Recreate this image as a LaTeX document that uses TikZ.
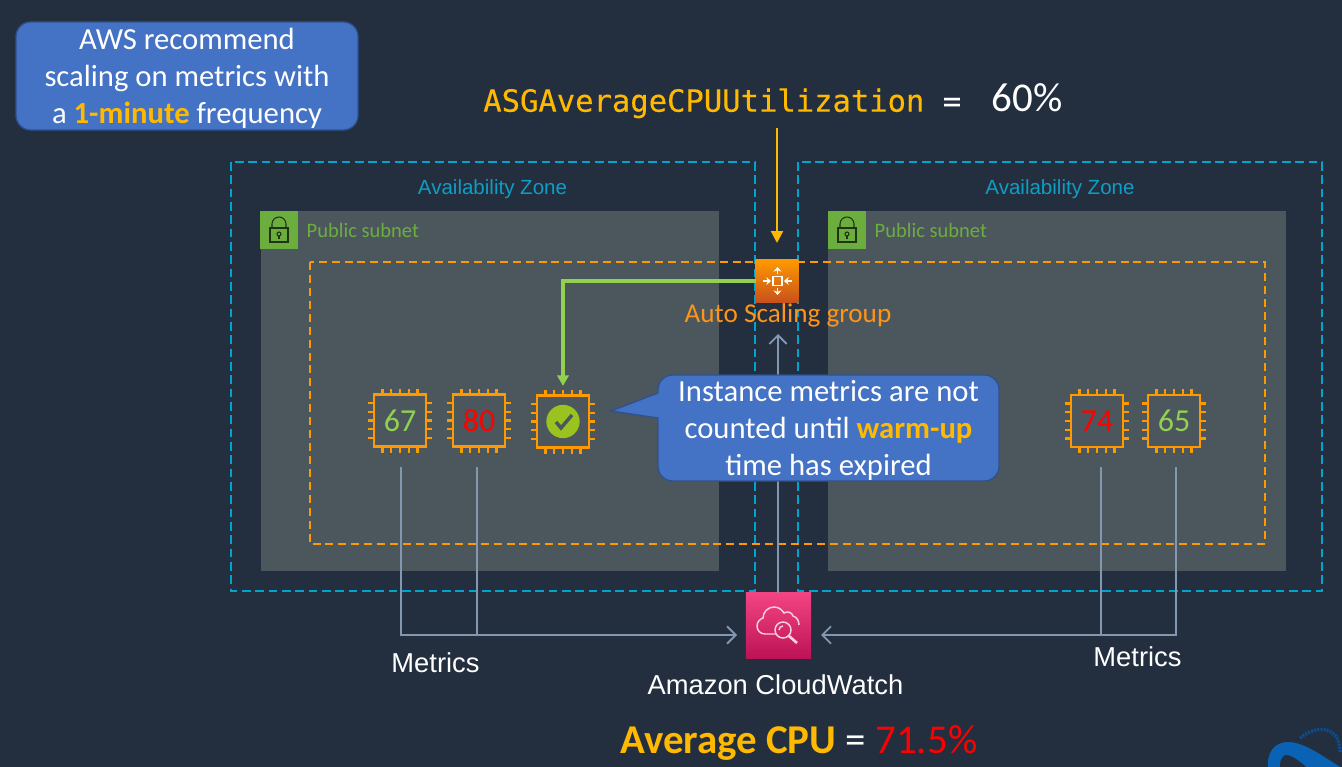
\documentclass[tikz,border=0pt]{standalone}
\usepackage{fontspec}
\usepackage{tikz}
\usetikzlibrary{arrows.meta}
\setmainfont{Carlito}
\newfontfamily\arialf{Liberation Sans}
\newfontfamily\monof[FakeBold=0.3]{DejaVu Sans Mono}
\definecolor{bgdark}{HTML}{232E3E}
\definecolor{subnetgrey}{HTML}{4C565D}
\definecolor{zoneblue}{HTML}{00A4CC}
\definecolor{zonetext}{HTML}{0F9DC6}
\definecolor{asgorange}{HTML}{FF9900}
\definecolor{asgtext}{HTML}{FF9416}
\definecolor{asgdark}{HTML}{C8511B}
\definecolor{cwlight}{HTML}{F34482}
\definecolor{cwdark}{HTML}{BC1356}
\definecolor{cwline}{HTML}{F7D0DF}
\definecolor{subnetgreen}{HTML}{6CAE3E}
\definecolor{okgreen}{HTML}{92D050}
\definecolor{badgegreen}{HTML}{9BC31F}
\definecolor{hotred}{HTML}{FF0000}
\definecolor{warmyellow}{HTML}{FFB900}
\definecolor{noteblue}{HTML}{4472C4}
\definecolor{noteedge}{HTML}{2F528F}
\definecolor{metricgrey}{HTML}{8497B0}
\definecolor{logoblue}{HTML}{0A62B4}
\tikzset{
    zonebox/.style={draw=zoneblue,line width=1.5pt,dash pattern=on 6.5pt off 3.5pt},
    subnetbox/.style={fill=subnetgrey},
    asgbox/.style={draw=asgorange,line width=1.4pt,dash pattern=on 6pt off 3.7pt},
    locktile/.style={fill=subnetgreen,minimum size=28.5pt,inner sep=0pt,outer sep=0pt},
    locklabel/.style={anchor=west,text=subnetgreen,font=\fontsize{15.4}{18}\selectfont},
    zonelabel/.style={text=zonetext,font=\arialf\fontsize{15.4}{18}\selectfont},
    chipbox/.style={draw=asgorange,line width=2pt,minimum size=39pt,inner sep=0pt,outer sep=0pt,font=\fontsize{24}{28}\selectfont},
    chippin/.style={draw=asgorange,line width=1.7pt},
    metric/.style={draw=metricgrey,line width=1.4pt},
    metricarrow/.style={metric,-{Straight Barb[length=6.5pt,width=13pt,line width=1.4pt]}},
    notebox/.style={fill=noteblue,draw=noteedge,line width=1pt},
    notetext/.style={align=center,text=white,font=\fontsize{23}{27.75}\selectfont},
    whitelabel/.style={text=white,font=\arialf\fontsize{20.5}{24}\selectfont},
    lockline/.style={draw=black!70!subnetgreen,line width=.8pt},
    iconline/.style={draw=white,line width=1pt},
    cwlinestyle/.style={draw=cwline,line width=1.1pt},
    asgarrow/.style={iconline,-{Stealth[length=3.5pt,width=6pt]}}
}
\newcommand{\chipicon}[4]{%
    \node[chipbox] (#1) at (#2,#3) {#4};
    \foreach \off in {-17.5,-8.75,0,8.75,17.5} {
        \draw[chippin] (#1.north) ++(\off,0) -- ++(0,-6);
        \draw[chippin] (#1.south) ++(\off,0) -- ++(0,6);
        \draw[chippin] (#1.west) ++(0,\off) -- ++(-6,0);
        \draw[chippin] (#1.east) ++(0,\off) -- ++(6,0);
    }
}
\newcommand{\lockicon}[3]{%
    \node[locktile] (#1) at (#2,#3) {};
    \draw[lockline] (#1.center) ++(-9,-2) rectangle ++(18,14);
    \draw[lockline] (#1.center) ++(-7,-2) -- ++(0,-4) arc (180:360:7) -- ++(0,4);
    \draw[lockline] (#1.center) ++(0,4) circle (2);
    \draw[lockline] (#1.center) ++(0,6) -- ++(0,3);
}
\begin{document}
\begin{tikzpicture}[x=.75pt,y=-.75pt]
    \useasboundingbox (0,0) rectangle (1342,767);
    \fill[bgdark] (0,0) rectangle (1342,767);

    % zones and subnets
    \draw[zonebox] (231,162) rectangle (755,591);
    \draw[zonebox] (798,162) rectangle (1322,591);
    \fill[subnetbox] (261,211) rectangle (719,571);
    \fill[subnetbox] (828,211) rectangle (1286,571);
    \node[zonelabel] (zoneleft) at (492.5,189) {Availability Zone};
    \node[zonelabel] (zoneright) at (1060,189) {Availability Zone};
    \lockicon{lockleft}{279}{230}
    \lockicon{lockright}{847}{230}
    \node[locklabel] (subnetleft) at (302,230) {Public subnet};
    \node[locklabel] (subnetright) at (870,230) {Public subnet};
    \draw[asgbox] (310,262) rectangle (1265,544);

    % instances
    \chipicon{chipa}{400}{420.5}{\textcolor{okgreen}{67}}
    \chipicon{chipb}{479}{420.5}{\textcolor{hotred}{80}}
    \chipicon{chipc}{563}{421.5}{}
    \chipicon{chipd}{1097}{421}{\textcolor{hotred}{74}}
    \chipicon{chipe}{1174}{421}{\textcolor{okgreen}{65}}
    \node[circle,fill=badgegreen,minimum size=25pt,inner sep=0pt] (okmark) at (chipc.center) {};
    \draw[subnetgrey,line width=2.6pt] (556,422) -- (561,428) -- (572,415);

    % cloudwatch and auto scaling icons
    \node[minimum size=49pt,inner sep=0pt,outer sep=0pt,shading angle=-45,bottom color=cwdark,top color=cwlight] (cloudwatch) at (778.5,625.5) {};
    \draw[cwlinestyle] (776,634) -- (765,634) .. controls (760,634) and (757,630) .. (757,626) .. controls (757,622) and (760,619) .. (763,618) .. controls (763,612) and (768,607) .. (774,607) .. controls (779,607) and (782,610) .. (784,613) .. controls (787,611) and (792,612) .. (793,616) .. controls (797,617) and (799,621) .. (799,625);
    \draw[cwlinestyle] (783,630) circle (8);
    \draw[cwlinestyle,line width=2pt] (789,636) -- (797,643);
    \draw[cwlinestyle] (779,630) arc (180:270:4);
    \node[minimum size=32pt,inner sep=0pt,outer sep=0pt,shading angle=-45,bottom color=asgdark,top color=asgorange] (asgicon) at (777,281) {};

    % connectors
    \coordinate (asgtop) at (777,128);
    \coordinate (asgend) at (777,243);
    \coordinate (asgin) at (778,334);
    \coordinate (okend) at (563,386);
    \coordinate (cwleft) at (737,635);
    \coordinate (cwright) at (821,635);
    \coordinate (metrica) at (401,467);
    \coordinate (metricb) at (477,467);
    \coordinate (metricc) at (1101,467);
    \coordinate (metricd) at (1176,467);
    \draw[draw=warmyellow,line width=1.6pt,-{Triangle[length=9pt,width=9pt]}] (asgtop) -- (asgend);
    \draw[draw=okgreen,line width=2.4pt,-{Triangle[length=8pt,width=8.5pt]}] (asgicon.west) -| (okend);
    \draw[metricarrow] (cloudwatch.north -| asgin) -- (asgin);
    \draw[metricarrow] (metrica) |- (cwleft);
    \draw[metric] (metricb) -- (metricb |- cwleft);
    \draw[metricarrow] (metricd) |- (cwright);
    \draw[metric] (metricc) -- (metricc |- cwright);

    % auto scaling glyph
    \draw[iconline,line width=1.2pt] (773,276.5) rectangle (782,285.5);
    \draw[asgarrow] (777.5,274) -- (777.5,267);
    \draw[asgarrow] (777.5,288) -- (777.5,295);
    \draw[asgarrow] (763,281) -- (771,281);
    \draw[asgarrow] (792,281) -- (784,281);

    \node[text=asgtext,font=\fontsize{20.4}{24}\selectfont] (asglabel) at (788,315) {Auto Scaling group};

    % notes
    \draw[notebox,rounded corners=11pt] (16,22) rectangle (358,130);
    \node[notetext] (freqnote) at (187,78) {AWS recommend\\scaling on metrics with\\a \textcolor{warmyellow}{\textbf{1-minute}} frequency};
    \draw[notebox] (611,411) -- (658,393) [rounded corners=11pt] -- (658,375) -- (999,375) -- (999,481) -- (658,481) [sharp corners] -- (658,418) -- cycle;
    \node[notetext] (warmnote) at (828.5,430) {Instance metrics are not\\counted until \textcolor{warmyellow}{\textbf{warm-up}}\\time has expired};

    % labels
    \node[anchor=west,inner sep=0pt,text=white] (asgmetric) at (483,101) {\monof\fontsize{22.9}{28}\selectfont\textcolor{warmyellow}{ASGAverageCPUUtilization} =\hspace{23pt}\rmfamily\fontsize{30.7}{34}\selectfont 60\%};
    \node[whitelabel] (metricsleft) at (435.5,663) {Metrics};
    \node[whitelabel] (metricsright) at (1137.5,656.5) {Metrics};
    \node[whitelabel] (cwlabel) at (775.5,685) {Amazon CloudWatch};
    \node[anchor=west,inner sep=0pt,text=white,font=\fontsize{30.7}{34}\selectfont] (avgcpu) at (620,743) {\textcolor{warmyellow}{\textbf{Average CPU}} = \textcolor{hotred}{71.5\%}};

    % logo in the corner
    \begin{scope}
        \clip (0,0) rectangle (1342,767);
        \fill[logoblue] (1268,770) .. controls (1266,752) and (1275,742) .. (1288,742) .. controls (1305,742) and (1325,758) .. (1342,768) -- (1342,772) -- (1312,772) .. controls (1302,763) and (1292,754) .. (1285,755) .. controls (1281,757) and (1279,762) .. (1280,770) -- cycle;
        \draw[logoblue!80!black,line width=2.5pt,dash pattern=on 1.6pt off .8pt] (1300,738) .. controls (1310,730) and (1325,725) .. (1335,735) .. controls (1339,740) and (1340,746) .. (1340,752);
    \end{scope}
\end{tikzpicture}
\end{document}
